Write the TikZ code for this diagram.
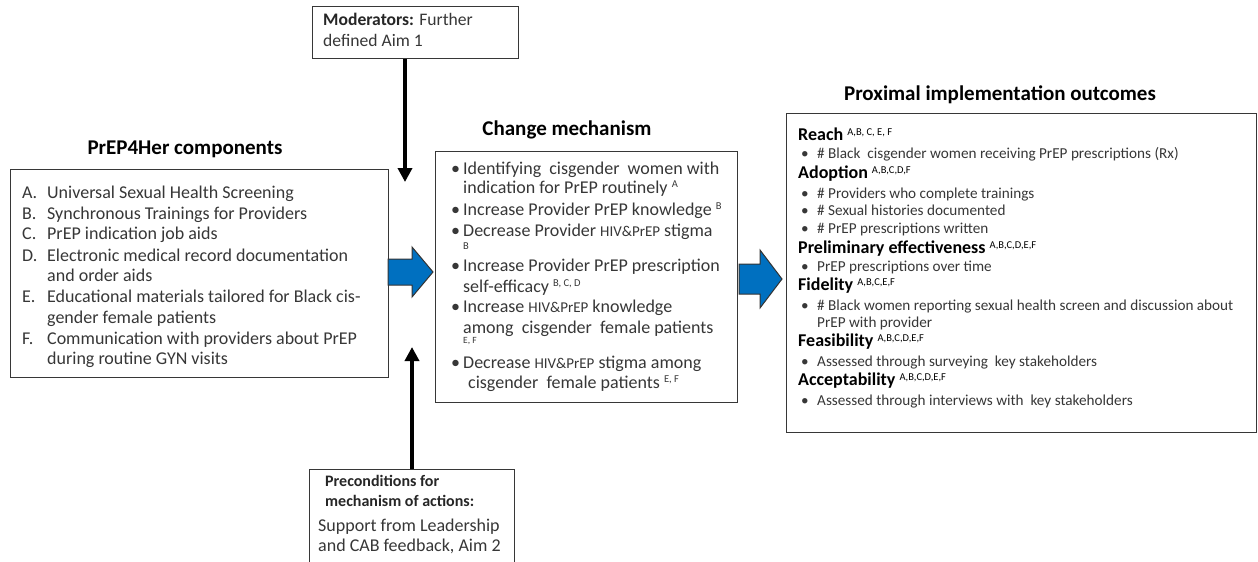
\documentclass[tikz,border=0pt]{standalone}
\usepackage{fontspec}
\setmainfont{Carlito}
\usetikzlibrary{arrows.meta}
\definecolor{txtgray}{RGB}{55,55,55}
\definecolor{boxline}{RGB}{55,55,55}
\definecolor{arrowblue}{RGB}{0,112,192}
\newcommand{\sps}[1]{{\fontsize{10.5}{10}\selectfont\raisebox{5.5pt}{#1}}}
\newcommand{\hp}{{\fontsize{15}{14}\selectfont HIV\&PrEP}}
\tikzset{
  box/.style={draw=boxline, line width=1.4pt, anchor=north west, inner sep=0pt},
  title/.style={inner sep=0pt, font=\fontsize{21}{24}\selectfont\bfseries, text=black},
  ltxt/.style={anchor=west, inner sep=0pt, text=txtgray, font=\fontsize{18}{20}\selectfont, text height=12pt, text depth=4pt},
  otxt/.style={anchor=west, inner sep=0pt, text=txtgray, font=\fontsize{15.2}{17}\selectfont, text height=10pt, text depth=3pt},
  ohead/.style={anchor=west, inner sep=0pt, text=black, font=\fontsize{18}{19}\selectfont\bfseries, text height=11pt, text depth=4pt},
  mtxt/.style={anchor=west, inner sep=0pt, text=txtgray, font=\fontsize{17.6}{19}\selectfont, text height=11pt, text depth=4pt},
  btxt/.style={anchor=west, inner sep=0pt, text=black!85, font=\fontsize{16}{18}\selectfont\bfseries, text height=11pt, text depth=4pt},
  blackarrow/.style={line width=4pt, -{Triangle[width=14pt,length=14pt]}},
  bluearrow/.style={fill=arrowblue, draw=black!80, line width=1pt, line join=miter}
}
\begin{document}
\begin{tikzpicture}[x=1pt,y=-1pt]
\useasboundingbox (0,0) rectangle (1258,562);
\clip (0,0) rectangle (1258,562);
\fill[white] (0,0) rectangle (1258,562);

% boxes
\node[box, minimum width=206pt, minimum height=52pt] (mod) at (312,6) {};
\node[box, minimum width=378pt, minimum height=208pt] (comp) at (10,169) {};
\node[box, minimum width=302pt, minimum height=251pt] (mech) at (435,151) {};
\node[box, minimum width=470pt, minimum height=319pt] (out) at (786,113) {};
\node[box, minimum width=205pt, minimum height=110pt] (pre) at (309,469) {};

% titles
\node[title] (comptitle) at (185,149) {PrEP4Her components};
\node[title] (mechtitle) at (567,130) {Change mechanism};
\node[title] (outtitle) at (1000,95) {Proximal implementation outcomes};

% moderators
\node[mtxt] (m1) at (323,22) {\textbf{\color{black!85}Moderators:} Further};
\node[mtxt] (m2) at (323,43) {defined Aim 1};

% preconditions
\node[btxt] (p1) at (325,483) {Preconditions for};
\node[btxt] (p2) at (325,503) {mechanism of actions:};
\node[ltxt] (p3) at (318,527) {Support from Leadership};
\node[ltxt] (p4) at (318,547) {and CAB feedback, Aim 2};

% components
\node[ltxt] (c1) at (22,194) {\makebox[25pt][l]{A.}Universal Sexual Health Screening};
\node[ltxt] (c2) at (22,215) {\makebox[25pt][l]{B.}Synchronous Trainings for Providers};
\node[ltxt] (c3) at (22,235) {\makebox[25pt][l]{C.}PrEP indication job aids};
\node[ltxt] (c4) at (22,257) {\makebox[25pt][l]{D.}Electronic medical record documentation};
\node[ltxt] (c5) at (47,277) {and order aids};
\node[ltxt] (c6) at (22,298) {\makebox[25pt][l]{E.}Educational materials tailored for Black cis-};
\node[ltxt] (c7) at (47,319) {gender female patients};
\node[ltxt] (c8) at (22,340) {\makebox[25pt][l]{F.}Communication with providers about PrEP};
\node[ltxt] (c9) at (47,360) {during routine GYN visits};

% change mechanism
\node[ltxt] (b1) at (451,170) {\makebox[12pt][l]{\textbullet}Identifying\ \ cisgender\ \ women with};
\node[ltxt] (b1b) at (463,189) {indication for PrEP routinely \sps{A}};
\node[ltxt] (b2) at (451,211) {\makebox[12pt][l]{\textbullet}Increase Provider PrEP knowledge \sps{B}};
\node[ltxt] (b3) at (451,232) {\makebox[12pt][l]{\textbullet}Decrease Provider \hp\ stigma};
\node[anchor=west, inner sep=0pt, text=txtgray, font=\fontsize{10.5}{10}\selectfont] (b3b) at (463,246) {B};
\node[ltxt] (b4) at (451,267) {\makebox[12pt][l]{\textbullet}Increase Provider PrEP prescription};
\node[ltxt] (b4b) at (463,288) {self-efficacy \sps{B, C, D}};
\node[ltxt] (b5) at (451,308) {\makebox[12pt][l]{\textbullet}Increase \hp\ knowledge};
\node[ltxt] (b5b) at (463,329) {among\ \ cisgender\ \ female patients};
\node[anchor=west, inner sep=0pt, text=txtgray, font=\fontsize{9.5}{9}\selectfont] (b5c) at (463,341) {E, F};
\node[ltxt] (b6) at (451,364) {\makebox[12pt][l]{\textbullet}Decrease \hp\ stigma among};
\node[ltxt] (b6b) at (468,384) {cisgender \ female patients \sps{E, F}};

% outcomes
\node[ohead] (o1) at (798,137) {Reach \sps{\mdseries A,B, C, E, F}};
\node[otxt] (o2) at (801,155) {\makebox[16pt][l]{\textbullet}\# Black\ \ cisgender\ women receiving PrEP prescriptions (Rx)};
\node[ohead] (o3) at (798,175) {Adoption \sps{\mdseries A,B,C,D,F}};
\node[otxt] (o4) at (801,195) {\makebox[16pt][l]{\textbullet}\# Providers who complete trainings};
\node[otxt] (o5) at (801,212) {\makebox[16pt][l]{\textbullet}\# Sexual histories documented};
\node[otxt] (o6) at (801,230) {\makebox[16pt][l]{\textbullet}\# PrEP prescriptions written};
\node[ohead] (o7) at (798,250) {Preliminary\ effectiveness \sps{\mdseries A,B,C,D,E,F}};
\node[otxt] (o8) at (801,268) {\makebox[16pt][l]{\textbullet}PrEP prescriptions over time};
\node[ohead] (o9) at (798,287) {Fidelity \sps{\mdseries A,B,C,E,F}};
\node[otxt] (o10) at (801,307) {\makebox[16pt][l]{\textbullet}\# Black women reporting sexual health screen and discussion about};
\node[otxt] (o11) at (817,324) {PrEP with provider};
\node[ohead] (o12) at (798,343) {Feasibility \sps{\mdseries A,B,C,D,E,F}};
\node[otxt] (o13) at (801,363) {\makebox[16pt][l]{\textbullet}Assessed through surveying\ \ key stakeholders};
\node[ohead] (o14) at (798,382) {Acceptability \sps{\mdseries A,B,C,D,E,F}};
\node[otxt] (o15) at (801,402) {\makebox[16pt][l]{\textbullet}Assessed through interviews with\ \ key stakeholders};

% black arrows
\coordinate (modtip) at (405,182);
\draw[blackarrow] (mod.south -| modtip) -- (modtip);
\coordinate (pretip) at (412,347);
\draw[blackarrow] (pre.north -| pretip) -- (pretip);

% blue block arrows
\coordinate (a1) at (388,272);
\draw[bluearrow] (a1) ++(0,-13) -- ++(24,0) -- ++(0,-12) -- (433,272) -- (412,297) -- (412,285) -- (388,285) -- cycle;
\coordinate (a2) at (739,279);
\draw[bluearrow] (a2) ++(0,-15) -- ++(21,0) -- ++(0,-14) -- (782,279) -- (760,308) -- (760,294) -- (739,294) -- cycle;
\end{tikzpicture}
\end{document}
